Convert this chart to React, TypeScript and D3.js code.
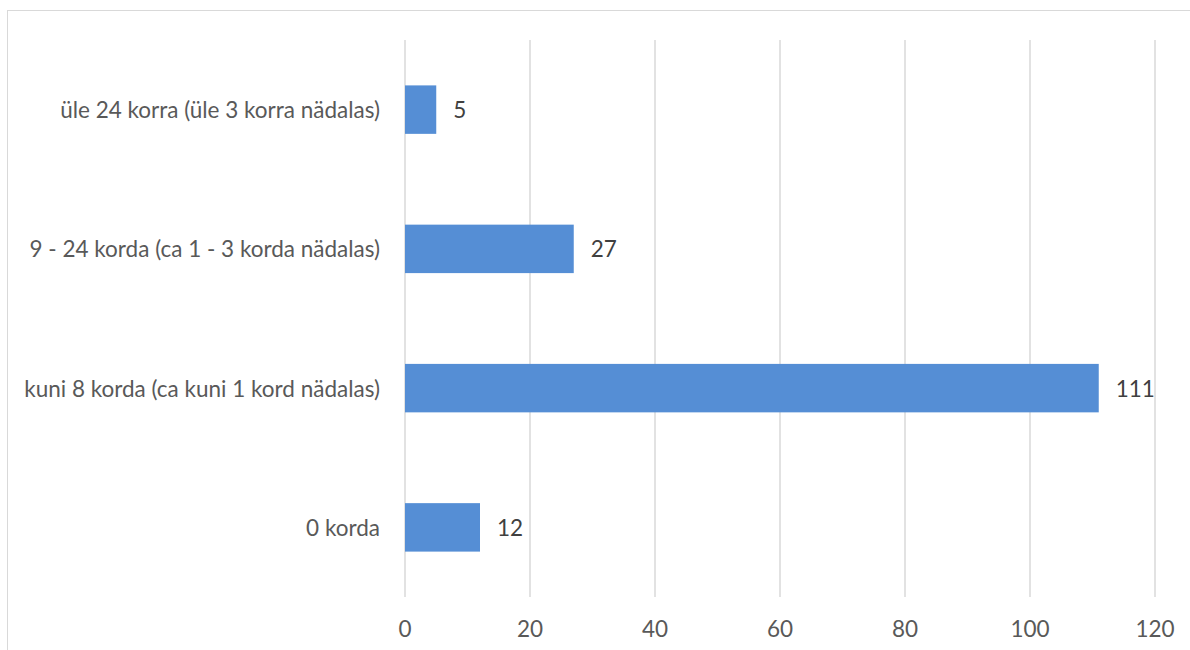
import React from "react";
import * as d3 from "d3";

const WIDTH = 1190;
const HEIGHT = 650;
const MARGIN = { top: 40, left: 405, right: 35, bottom: 53 };

const categories = [
  "üle 24 korra (üle 3 korra nädalas)",
  "9 - 24 korda (ca 1 - 3 korda nädalas)",
  "kuni 8 korda (ca kuni 1 kord nädalas)",
  "0 korda",
];
const values = [5, 27, 111, 12];
const xTicks = [0, 20, 40, 60, 80, 100, 120];

const FONT = "Lato, 'Open Sans', sans-serif";
const FONT_SIZE = 22.5;
const TEXT = "#595959";

export default function App() {
  const x = d3
    .scaleLinear()
    .domain([0, 120])
    .range([MARGIN.left, WIDTH - MARGIN.right]);
  const y = d3
    .scaleBand()
    .domain(categories)
    .range([MARGIN.top, HEIGHT - MARGIN.bottom])
    .paddingInner(0.652)
    .paddingOuter(0.326);

  const bottom = HEIGHT - MARGIN.bottom;

  return (
    <svg
      width={WIDTH}
      height={HEIGHT}
      style={{ position: "absolute", left: 0, top: 0, background: "#fff" }}
    >
      <rect x={7.5} y={10.5} width={WIDTH + 10} height={HEIGHT + 10} fill="#fff" stroke="#d9d9d9" />
      {xTicks.map(t => (
        <g key={t}>
          <line x1={x(t)} x2={x(t)} y1={MARGIN.top} y2={bottom} stroke="#d9d9d9" strokeWidth={1.5} />
          <text
            x={x(t)}
            y={628}
            textAnchor="middle"
            dominantBaseline="central"
            fontFamily={FONT}
            fontSize={FONT_SIZE}
            fill={TEXT}
          >
            {t}
          </text>
        </g>
      ))}
      {categories.map((c, i) => {
        const yc = (y(c) as number) + y.bandwidth() / 2;
        return (
          <g key={c}>
            <rect
              x={x(0)}
              y={y(c)}
              width={x(values[i]) - x(0)}
              height={y.bandwidth()}
              fill="#558ed5"
            />
            <text
              x={380}
              y={yc}
              textAnchor="end"
              dominantBaseline="central"
              fontFamily={FONT}
              fontSize={FONT_SIZE}
              fill={TEXT}
            >
              {c}
            </text>
            <text
              x={x(values[i]) + 17}
              y={yc}
              dominantBaseline="central"
              fontFamily={FONT}
              fontSize={FONT_SIZE}
              fill="#404040"
            >
              {values[i]}
            </text>
          </g>
        );
      })}
    </svg>
  );
}
